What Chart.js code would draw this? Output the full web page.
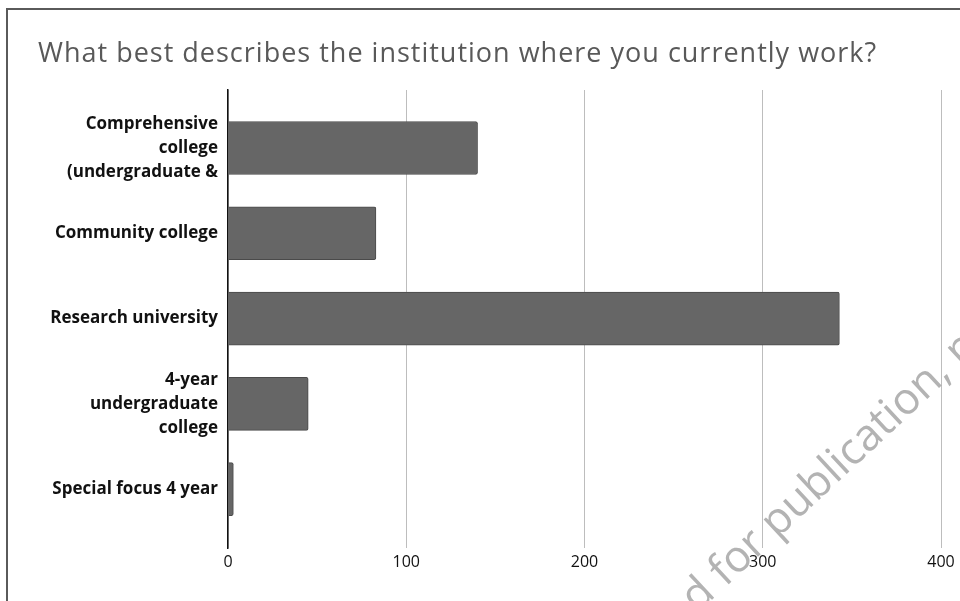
<!DOCTYPE html>
<html><head><meta charset="utf-8">
<script src="https://cdn.jsdelivr.net/npm/chart.js@4/dist/chart.umd.min.js"></script>
<style>
html,body{margin:0;padding:0;background:#fff;}
#wrap{position:relative;width:960px;height:601px;overflow:hidden;}
#c{position:absolute;left:0;top:0;}
.fl{position:absolute;left:6px;top:8px;width:2px;height:700px;background:#5a5a5a;}
.ft{position:absolute;left:6px;top:8px;width:1000px;height:2px;background:#5a5a5a;}
</style></head>
<body>
<div id="wrap">
<canvas id="c" width="960" height="601"></canvas>
<div class="fl"></div><div class="ft"></div>
</div>
<script>
const titleText = "What best describes the institution where you currently work?";
const categories = [
  ["Comprehensive", "college", "(undergraduate &"],
  "Community college",
  "Research university",
  ["4-year", "undergraduate", "college"],
  "Special focus 4 year"
];
const counts = [140, 83, 343, 45, 3];
const xTicks = [0, 100, 200, 300, 400];
const watermark = "Accepted for publication, p";

const titlePlugin = {
  id: 'ttl',
  afterDraw(chart) {
    const ctx = chart.ctx;
    ctx.save();
    ctx.font = '27px "Open Sans", sans-serif';
    ctx.letterSpacing = '1px';
    ctx.fillStyle = '#595959';
    ctx.textBaseline = 'alphabetic';
    ctx.textAlign = 'left';
    ctx.fillText(titleText, 38, 62);
    ctx.restore();
  }
};

const watermarkPlugin = {
  id: 'wm',
  afterDraw(chart) {
    const ctx = chart.ctx;
    ctx.save();
    ctx.font = '44px "Open Sans", sans-serif';
    ctx.fillStyle = 'rgba(160,160,160,0.8)';
    const pre = "Accepted for ";
    const w1 = ctx.measureText(pre).width;
    const w2 = ctx.measureText("publication").width;
    ctx.translate(852, 452);
    ctx.rotate(-43 * Math.PI / 180);
    ctx.textBaseline = 'middle';
    ctx.fillText(watermark, -(w1 + w2 / 2), 0);
    ctx.restore();
  }
};

new Chart(document.getElementById('c'), {
  type: 'bar',
  data: {
    datasets: [{
      data: counts.map((v, i) => ({x: v, y: i})),
      backgroundColor: '#666666',
      borderColor: '#4a4a4a',
      borderWidth: 1,
      borderRadius: 2,
      borderSkipped: 'start',
      barThickness: 53
    }]
  },
  options: {
    indexAxis: 'y',
    responsive: false,
    animation: false,
    layout: {padding: {left: 0, right: 19, top: 90, bottom: 0}},
    plugins: {
      legend: {display: false},
      tooltip: {enabled: false},
      title: {display: false}
    },
    scales: {
      x: {
        type: 'linear',
        min: 0, max: 400,
        afterBuildTicks: s => { s.ticks = xTicks.map(v => ({value: v})); },
        afterFit: s => { s.height = 53; },
        grid: {color: '#bdbdbd', lineWidth: 1, drawTicks: false},
        border: {display: false},
        ticks: {color: '#111', padding: 5, font: {family: '"Open Sans", sans-serif', size: 16}}
      },
      y: {
        type: 'linear',
        reverse: true,
        offset: false,
        min: -0.68, max: 4.69,
        afterBuildTicks: s => { s.ticks = categories.map((_, i) => ({value: i})); },
        afterFit: s => { s.width = 228; },
        grid: {display: false, drawTicks: false, offset: false},
        border: {display: true, color: '#111', width: 1.5},
        ticks: {
          color: '#111',
          padding: 10,
          font: {family: '"Open Sans", sans-serif', size: 17, weight: 'bold', lineHeight: 1.41},
          callback: v => categories[v]
        }
      }
    }
  },
  plugins: [titlePlugin, watermarkPlugin]
});
</script>
</body></html>
